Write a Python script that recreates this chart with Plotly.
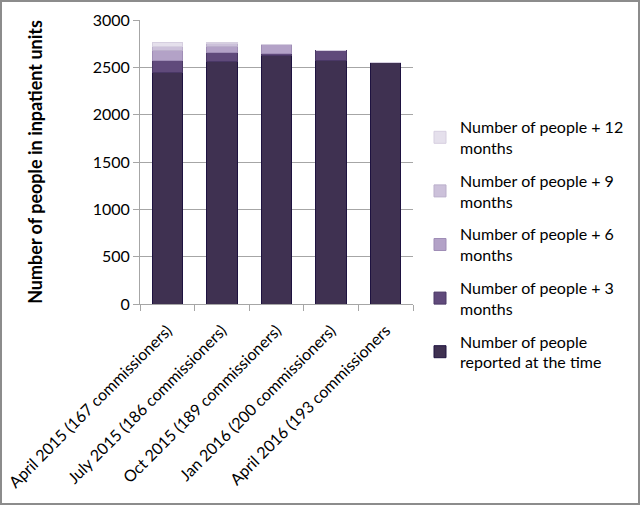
import plotly.graph_objects as go

categories = [
    "April 2015 (167 commissioners)",
    "July 2015 (186 commissioners)",
    "Oct 2015 (189 commissioners)",
    "Jan 2016 (200 commissioners)",
    "April 2016 (193 commissioners",
]
reported = [2443, 2559, 2622, 2574, 2549]
plus_3 = [134, 103, 26, 106, 0]
plus_6 = [103, 56, 95, 0, 0]
plus_9 = [45, 33, 0, 0, 0]
plus_12 = [42, 16, 0, 0, 0]

series = [
    ("Number of people<br>reported at the time", reported, "#3F3151", "#1E1240"),
    ("Number of people + 3<br>months", plus_3, "#604A7B", "#4A3866"),
    ("Number of people + 6<br>months", plus_6, "#B3A2C7", "#9F8DB6"),
    ("Number of people + 9<br>months", plus_9, "#CCC1DA", "#BBAFCB"),
    ("Number of people + 12<br>months", plus_12, "#E5E0EC", "#D6CFE0"),
]

W, H = 640, 505
ml, mr, mt, mb = 140, 227, 20, 201
pw = W - ml - mr
ph = H - mt - mb

fig = go.Figure()
for i, (name, vals, col, edge) in enumerate(series):
    fig.add_trace(go.Bar(
        x=categories, y=vals, name=name,
        marker=dict(color=col, line=dict(color=edge, width=1)),
        width=0.56, legendgroup=str(i), legendrank=100 - 10 * i,
    ))

fig.update_layout(
    barmode="stack",
    width=W, height=H,
    margin=dict(l=ml, r=mr, t=mt, b=mb, autoexpand=False),
    paper_bgcolor="white", plot_bgcolor="white",
    font=dict(family="Lato, Calibri, sans-serif", size=14, color="black"),
    legend=dict(
        traceorder="grouped", x=(420 - ml) / pw, xanchor="left",
        y=(ph + mt - 110) / ph, yanchor="top",
        font=dict(size=16), tracegroupgap=9, itemwidth=30,
    ),
    shapes=[dict(
        type="rect", xref="paper", yref="paper",
        x0=(1 - ml) / pw, x1=(pw + mr - 1) / pw,
        y0=(1 - mb) / ph, y1=(ph + mt - 1) / ph,
        line=dict(color="#8C8C8C", width=2),
    )],
)

fig.update_yaxes(
    range=[0, 3000], dtick=500, showgrid=True, gridcolor="#A6A6A6", gridwidth=1,
    showline=True, linecolor="#A6A6A6", ticks="outside", ticklen=6, tickcolor="#A6A6A6",
    tickfont=dict(size=16), zeroline=False, automargin=False,
    title=dict(text="<b>Number of people in inpatient units</b>", font=dict(size=18), standoff=45),
)
fig.update_xaxes(
    tickangle=-45, showline=True, linecolor="#A6A6A6", ticks="outside", ticklen=6,
    tickcolor="#A6A6A6", tickson="boundaries", tickfont=dict(size=16), automargin=False,
    ticklabelstandoff=10,
)

fig.write_html("out.html", config={"displayModeBar": False},
               post_script="document.body.style.margin='0';")
